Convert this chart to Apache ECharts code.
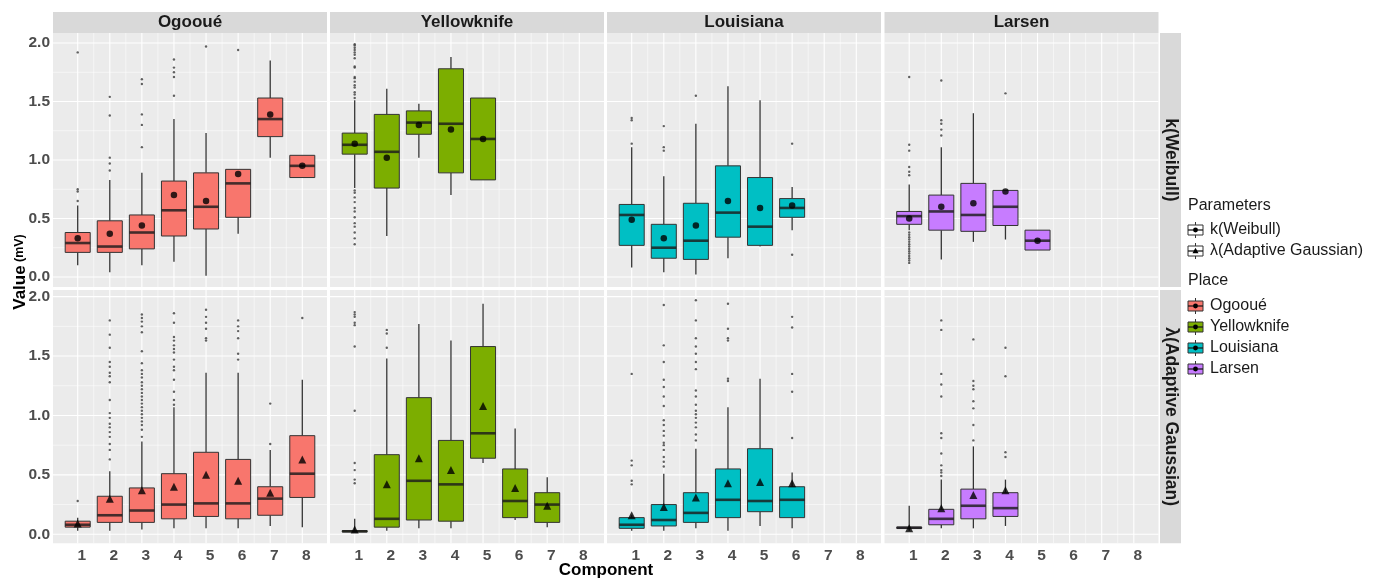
<!DOCTYPE html>
<html>
<head>
<meta charset="utf-8">
<script src="https://cdn.jsdelivr.net/npm/echarts@6/dist/echarts.min.js"></script>
<style>
  html, body { margin: 0; padding: 0; background: #ffffff; }
  #chart { width: 1374px; height: 578px; }
</style>
</head>
<body>
<div id="chart"></div>
<script>
// ---------- data ----------
const components = [1, 2, 3, 4, 5, 6, 7, 8];
const places = ['Ogooué', 'Yellowknife', 'Louisiana', 'Larsen'];
const parameters = ['k(Weibull)', 'λ(Adaptive Gaussian)'];
const placeColors = ['#F8766D', '#7CAE00', '#00BFC4', '#C77CFF'];
const yTickValues = [0, 0.5, 1, 1.5, 2];

// box statistics per component: [lower whisker, Q1, median, Q3, upper whisker, mean]
const ogooueK = [
  [0.10, 0.21, 0.29, 0.38, 0.61, 0.33],
  [0.04, 0.21, 0.26, 0.48, 0.83, 0.37],
  [0.10, 0.24, 0.38, 0.53, 0.89, 0.44],
  [0.13, 0.35, 0.57, 0.82, 1.35, 0.70],
  [0.01, 0.41, 0.60, 0.89, 1.23, 0.65],
  [0.37, 0.51, 0.80, 0.92, 0.92, 0.88],
  [1.02, 1.20, 1.35, 1.53, 1.85, 1.39],
  [0.85, 0.85, 0.95, 1.04, 1.04, 0.95]
];
const ogooueKOutliers = [
  [1.92, 0.75, 0.73, 0.65],
  [1.54, 1.38, 1.02, 0.97, 0.91],
  [1.69, 1.65, 1.39, 1.30, 1.11],
  [1.86, 1.79, 1.75, 1.71, 1.55],
  [1.97],
  [1.94],
  [],
  []
];
const yellowknifeK = [
  [0.76, 1.05, 1.13, 1.23, 1.51, 1.14],
  [0.35, 0.76, 1.07, 1.39, 1.61, 1.02],
  [1.02, 1.22, 1.32, 1.42, 1.48, 1.30],
  [0.70, 0.89, 1.31, 1.78, 1.88, 1.26],
  [0.83, 0.83, 1.18, 1.53, 1.53, 1.18]
];
const yellowknifeKOutliers = [
  [1.99, 1.98, 1.96, 1.94, 1.92, 1.90, 1.87, 1.80, 1.79, 1.71, 1.70, 1.67, 1.64, 1.62, 1.58, 1.56, 1.53,
   0.74, 0.72, 0.68, 0.64, 0.59, 0.56, 0.51, 0.46, 0.43, 0.38, 0.33, 0.28],
  [], [], [], []
];
const louisianaK = [
  [0.08, 0.27, 0.53, 0.62, 1.11, 0.49],
  [0.04, 0.16, 0.25, 0.45, 0.86, 0.33],
  [0.02, 0.15, 0.31, 0.63, 1.31, 0.44],
  [0.16, 0.34, 0.55, 0.95, 1.63, 0.65],
  [0.26, 0.27, 0.43, 0.85, 1.51, 0.59],
  [0.40, 0.51, 0.59, 0.67, 0.77, 0.61]
];
const louisianaKOutliers = [
  [1.36, 1.34, 1.14],
  [1.29, 1.11, 1.08],
  [1.55],
  [],
  [],
  [1.14, 0.19]
];
const larsenK = [
  [0.40, 0.45, 0.52, 0.56, 0.79, 0.50],
  [0.15, 0.40, 0.56, 0.70, 1.11, 0.60],
  [0.30, 0.39, 0.53, 0.80, 1.40, 0.63],
  [0.32, 0.44, 0.60, 0.74, 0.74, 0.73],
  [0.23, 0.23, 0.31, 0.40, 0.40, 0.31]
];
const larsenKOutliers = [
  [1.71, 1.13, 1.08, 0.94, 0.90, 0.87, 0.38, 0.36, 0.34, 0.32, 0.30, 0.28, 0.26, 0.24, 0.22, 0.20, 0.18, 0.16, 0.14, 0.12],
  [1.68, 1.34, 1.31, 1.26, 1.21],
  [],
  [1.57],
  []
];

const ogooueLambda = [
  [0.03, 0.06, 0.08, 0.11, 0.14, 0.09],
  [0.03, 0.10, 0.16, 0.32, 0.53, 0.30],
  [0.04, 0.10, 0.20, 0.39, 0.78, 0.37],
  [0.05, 0.13, 0.25, 0.51, 1.07, 0.40],
  [0.05, 0.15, 0.26, 0.69, 1.36, 0.50],
  [0.05, 0.13, 0.26, 0.63, 1.36, 0.45],
  [0.07, 0.16, 0.30, 0.40, 0.71, 0.35],
  [0.06, 0.31, 0.51, 0.83, 1.30, 0.63]
];
const ogooueLambdaOutliers = [
  [0.28],
  [1.80, 1.68, 1.57, 1.45, 1.41, 1.36, 1.33, 1.28, 1.13, 1.02, 0.98, 0.93, 0.90, 0.86, 0.82, 0.76, 0.71, 0.63],
  [1.85, 1.82, 1.79, 1.75, 1.70, 1.54, 1.44, 1.38, 1.35, 1.32, 1.28, 1.25, 1.22, 1.19, 1.16, 1.13, 1.10, 1.07, 1.04, 1.01, 0.98, 0.95, 0.92, 0.88, 0.82],
  [1.86, 1.78, 1.66, 1.63, 1.59, 1.56, 1.53, 1.47, 1.41, 1.38, 1.30, 1.20, 1.13, 1.09],
  [1.89, 1.83, 1.78, 1.73, 1.65, 1.63],
  [1.80, 1.75, 1.71, 1.65, 1.52, 1.47],
  [1.10, 0.76],
  [1.82]
];
const yellowknifeLambda = [
  [0.02, 0.02, 0.025, 0.03, 0.13, 0.04],
  [0.03, 0.06, 0.13, 0.67, 1.48, 0.42],
  [0.05, 0.12, 0.45, 1.15, 1.77, 0.64],
  [0.05, 0.11, 0.42, 0.79, 1.63, 0.54],
  [0.60, 0.64, 0.85, 1.58, 1.94, 1.08],
  [0.12, 0.14, 0.28, 0.55, 0.89, 0.39],
  [0.06, 0.10, 0.25, 0.35, 0.48, 0.24]
];
const yellowknifeLambdaOutliers = [
  [1.87, 1.85, 1.83, 1.78, 1.76, 1.58, 1.04, 0.60, 0.54, 0.46, 0.43],
  [1.72, 1.69, 1.57],
  [], [], [], [], []
];
const louisianaLambda = [
  [0.03, 0.05, 0.08, 0.14, 0.16, 0.16],
  [0.03, 0.07, 0.12, 0.25, 0.51, 0.23],
  [0.05, 0.10, 0.18, 0.35, 0.72, 0.31],
  [0.03, 0.14, 0.29, 0.55, 1.07, 0.43],
  [0.07, 0.19, 0.28, 0.72, 1.31, 0.44],
  [0.05, 0.14, 0.29, 0.40, 0.52, 0.43]
];
const louisianaLambdaOutliers = [
  [1.35, 0.62, 0.58, 0.45, 0.42],
  [1.93, 1.59, 1.45, 1.30, 1.24, 1.16, 1.08, 0.96, 0.92, 0.87, 0.83, 0.77, 0.75, 0.71, 0.65, 0.61, 0.57],
  [1.97, 1.80, 1.65, 1.58, 1.52, 1.45, 1.39, 1.21, 1.16, 1.09, 1.04, 1.01, 0.98, 0.94, 0.90, 0.84, 0.79],
  [1.94, 1.73, 1.65, 1.63, 1.31, 1.29],
  [],
  [1.83, 1.74, 1.35, 1.20, 0.81]
];
const larsenLambda = [
  [0.03, 0.05, 0.055, 0.06, 0.24, 0.05],
  [0.05, 0.08, 0.13, 0.21, 0.46, 0.22],
  [0.05, 0.13, 0.24, 0.38, 0.74, 0.33],
  [0.07, 0.15, 0.22, 0.35, 0.46, 0.37]
];
const larsenLambdaOutliers = [
  [],
  [1.80, 1.72, 1.35, 1.26, 1.16, 0.85, 0.81, 0.68, 0.58, 0.54, 0.52, 0.49],
  [1.64, 1.29, 1.25, 1.22, 1.12, 1.06, 0.92, 0.79],
  [1.57, 1.33, 0.69, 0.65]
];

// rows = parameters, columns = places
const boxTable = [
  [ogooueK, yellowknifeK, louisianaK, larsenK],
  [ogooueLambda, yellowknifeLambda, louisianaLambda, larsenLambda]
];
const outlierTable = [
  [ogooueKOutliers, yellowknifeKOutliers, louisianaKOutliers, larsenKOutliers],
  [ogooueLambdaOutliers, yellowknifeLambdaOutliers, louisianaLambdaOutliers, larsenLambdaOutliers]
];

// ---------- layout ----------
const colLeft = [53, 330, 607, 884.5];
const panelWidth = 274;
const rowTop = [33, 290];
const rowHeight = [254, 253.3];
const xRange = [0.23, 8.77];
const yRanges = [[-0.086, 2.086], [-0.076, 2.056]];
const boxWidth = 0.78;
const meanSymbols = ['circle', 'triangle'];
const meanSizes = [6.5, 8];
const labelFont = 'Liberation Sans, Arial, Helvetica, sans-serif';

// panel grid lines: [orientation (0 horizontal, 1 vertical), value, major flag]
const gridLineData = [];
[0, 0.5, 1, 1.5, 2].forEach(v => gridLineData.push([0, v, 1]));
[0.25, 0.75, 1.25, 1.75].forEach(v => gridLineData.push([0, v, 0]));
components.forEach(v => gridLineData.push([1, v, 1]));
[1.5, 2.5, 3.5, 4.5, 5.5, 6.5, 7.5].forEach(v => gridLineData.push([1, v, 0]));

function renderGridLine(params, api) {
  const cs = params.coordSys;
  const orient = api.value(0);
  const v = api.value(1);
  const major = api.value(2) === 1;
  const style = { stroke: '#FFFFFF', lineWidth: major ? 1.1 : 0.55 };
  if (orient === 0) {
    const y = api.coord([xRange[0], v])[1];
    return { type: 'line', shape: { x1: cs.x, y1: y, x2: cs.x + cs.width, y2: y }, style };
  }
  const x = api.coord([v, 0])[0];
  return { type: 'line', shape: { x1: x, y1: cs.y, x2: x, y2: cs.y + cs.height }, style };
}

function makeBoxRenderer(fill) {
  return function (params, api) {
    const x = api.value(0);
    const lo = api.coord([x, api.value(1)]);
    const q1 = api.coord([x, api.value(2)]);
    const med = api.coord([x, api.value(3)]);
    const q3 = api.coord([x, api.value(4)]);
    const hi = api.coord([x, api.value(5)]);
    const left = api.coord([x - boxWidth / 2, 0])[0];
    const right = api.coord([x + boxWidth / 2, 0])[0];
    const whisker = { stroke: '#333333', lineWidth: 1.3 };
    return {
      type: 'group',
      children: [
        { type: 'line', shape: { x1: hi[0], y1: hi[1], x2: q3[0], y2: q3[1] }, style: whisker },
        { type: 'line', shape: { x1: q1[0], y1: q1[1], x2: lo[0], y2: lo[1] }, style: whisker },
        { type: 'rect', shape: { x: left, y: q3[1], width: right - left, height: Math.max(q1[1] - q3[1], 0.5) },
          style: { fill: fill, stroke: '#333333', lineWidth: 1 } },
        { type: 'line', shape: { x1: left, y1: med[1], x2: right, y2: med[1] },
          style: { stroke: 'rgba(28,28,28,0.82)', lineWidth: 2.6 } }
      ]
    };
  };
}

const grids = [], xAxes = [], yAxes = [], series = [];
for (let r = 0; r < 2; r++) {
  for (let c = 0; c < 4; c++) {
    const idx = r * 4 + c;
    grids.push({
      left: colLeft[c], top: rowTop[r], width: panelWidth, height: rowHeight[r],
      show: true, backgroundColor: '#EBEBEB', borderWidth: 0
    });
    xAxes.push({
      gridIndex: idx, type: 'value', min: xRange[0], max: xRange[1],
      axisLine: { show: false },
      axisTick: { show: false },
      axisLabel: {
        show: r === 1, customValues: components, margin: 4,
        fontFamily: labelFont, fontWeight: 'bold', fontSize: 15.5, color: '#4D4D4D',
        padding: [0, 0, 0, 8]
      },
      splitLine: { show: false }
    });
    yAxes.push({
      gridIndex: idx, type: 'value', min: yRanges[r][0], max: yRanges[r][1],
      axisLine: { show: false },
      axisTick: { show: false },
      axisLabel: {
        show: c === 0, customValues: yTickValues, margin: 3,
        fontFamily: labelFont, fontWeight: 'bold', fontSize: 15.5, color: '#4D4D4D',
        formatter: v => Number(v).toFixed(1)
      },
      splitLine: { show: false }
    });

    series.push({
      type: 'custom', xAxisIndex: idx, yAxisIndex: idx, z: 1, silent: true,
      renderItem: renderGridLine, data: gridLineData
    });

    const stats = boxTable[r][c];
    const boxData = stats.map((s, i) => [components[i], s[0], s[1], s[2], s[3], s[4]]);
    series.push({
      type: 'custom', xAxisIndex: idx, yAxisIndex: idx, z: 2,
      renderItem: makeBoxRenderer(placeColors[c]),
      encode: { x: 0, y: [1, 2, 3, 4, 5] },
      data: boxData
    });

    const outData = [];
    outlierTable[r][c].forEach((list, i) => list.forEach(v => outData.push([components[i], v])));
    series.push({
      type: 'scatter', xAxisIndex: idx, yAxisIndex: idx, z: 3,
      symbol: 'circle', symbolSize: 2.4,
      itemStyle: { color: '#3A3A3A' },
      data: outData
    });

    series.push({
      type: 'scatter', xAxisIndex: idx, yAxisIndex: idx, z: 4,
      symbol: meanSymbols[r], symbolSize: meanSizes[r],
      itemStyle: { color: '#000000' },
      data: stats.map((s, i) => [components[i], s[5]])
    });
  }
}

// ---------- strips, titles and legend ----------
const graphics = [];
places.forEach((name, c) => {
  graphics.push({
    type: 'rect', left: colLeft[c], top: 12,
    shape: { width: panelWidth, height: 21 }, style: { fill: '#D9D9D9' }, silent: true
  });
  graphics.push({
    type: 'text', x: colLeft[c] + panelWidth / 2, y: 22.5,
    style: { text: name, fill: '#1A1A1A', font: 'bold 17px ' + labelFont, align: 'center', verticalAlign: 'middle' }
  });
});
parameters.forEach((name, r) => {
  graphics.push({
    type: 'rect', left: 1160, top: rowTop[r],
    shape: { width: 21, height: rowHeight[r] }, style: { fill: '#D9D9D9' }, silent: true
  });
  graphics.push({
    type: 'text', x: 1170.5, y: rowTop[r] + rowHeight[r] / 2, rotation: -Math.PI / 2,
    style: { text: name, fill: '#1A1A1A', font: 'bold 17.5px ' + labelFont, align: 'center', verticalAlign: 'middle' }
  });
});

// axis titles
graphics.push({
  type: 'text', x: 606, y: 570,
  style: { text: 'Component', fill: '#000000', font: 'bold 17px ' + labelFont, align: 'center', verticalAlign: 'middle' }
});
graphics.push({
  type: 'text', x: 20, y: 272, rotation: Math.PI / 2,
  style: {
    text: '{a|Value} {b|(mV)}', align: 'center', verticalAlign: 'middle',
    rich: {
      a: { fontFamily: labelFont, fontWeight: 'bold', fontSize: 17, fill: '#000000' },
      b: { fontFamily: labelFont, fontWeight: 'bold', fontSize: 12.5, fill: '#000000' }
    }
  }
});

// legend
function legendKey(y, fill, meanSymbol) {
  const x0 = 1188, w = 15, cx = x0 + w / 2;
  graphics.push({ type: 'line', shape: { x1: cx, y1: y - 8, x2: cx, y2: y + 8 }, style: { stroke: '#333333', lineWidth: 1 } });
  graphics.push({ type: 'rect', shape: { x: x0, y: y - 5, width: w, height: 10 }, style: { fill: fill, stroke: '#333333', lineWidth: 1 } });
  graphics.push({ type: 'line', shape: { x1: x0, y1: y, x2: x0 + w, y2: y }, style: { stroke: 'rgba(28,28,28,0.8)', lineWidth: 1.6 } });
  if (meanSymbol === 'triangle') {
    graphics.push({ type: 'polygon', shape: { points: [[cx, y - 3.2], [cx - 3, y + 2.2], [cx + 3, y + 2.2]] }, style: { fill: '#000000' } });
  } else {
    graphics.push({ type: 'circle', shape: { cx: cx, cy: y, r: 2.4 }, style: { fill: '#000000' } });
  }
}
function legendText(x, y, text) {
  graphics.push({
    type: 'text', x: x, y: y,
    style: { text: text, fill: '#1A1A1A', font: '16px ' + labelFont, align: 'left', verticalAlign: 'middle' }
  });
}
legendText(1188, 206, 'Parameters');
const paramRowsY = [230, 251];
parameters.forEach((name, r) => {
  legendKey(paramRowsY[r], '#FFFFFF', meanSymbols[r]);
  legendText(1210, paramRowsY[r], name);
});
legendText(1188, 281, 'Place');
const placeRowsY = [306, 327, 348, 369];
places.forEach((name, c) => {
  legendKey(placeRowsY[c], placeColors[c], 'circle');
  legendText(1210, placeRowsY[c], name);
});

const chart = echarts.init(document.getElementById('chart'), null, { renderer: 'canvas' });
chart.setOption({
  animation: false,
  backgroundColor: '#FFFFFF',
  grid: grids,
  xAxis: xAxes,
  yAxis: yAxes,
  series: series,
  graphic: graphics
});
</script>
</body>
</html>
